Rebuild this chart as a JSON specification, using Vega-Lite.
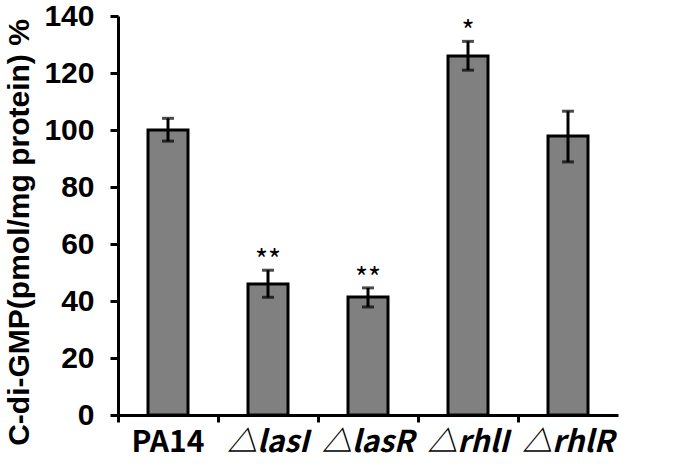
{
  "$schema": "https://vega.github.io/schema/vega-lite/v6.json",
  "width": 500,
  "height": 399,
  "autosize": "none",
  "padding": {"left": 118, "top": 16, "right": 67, "bottom": 55},
  "background": "white",
  "config": {"view": {"stroke": null}},
  "data": {
    "values": [
      {"strain": "PA14", "mean": 100, "lo": 96.1, "hi": 104.1, "sig": ""},
      {"strain": "△lasI", "mean": 46, "lo": 41.3, "hi": 50.8, "sig": "**"},
      {"strain": "△lasR", "mean": 41.4, "lo": 37.9, "hi": 44.6, "sig": "**"},
      {"strain": "△rhlI", "mean": 126, "lo": 121, "hi": 131.1, "sig": "*"},
      {"strain": "△rhlR", "mean": 97.9, "lo": 88.8, "hi": 106.6, "sig": ""}
    ]
  },
  "encoding": {
    "x": {
      "field": "strain",
      "type": "nominal",
      "sort": null,
      "scale": {"paddingInner": 0, "paddingOuter": 0},
      "axis": {
        "title": null,
        "labelAngle": 0,
        "bandPosition": 0,
        "domainColor": "black",
        "domainWidth": 3,
        "tickColor": "black",
        "tickWidth": 3,
        "tickSize": 7,
        "labelFont": "Noto Sans CJK SC",
        "labelFontWeight": "bold",
        "labelFontSize": 30,
        "labelColor": "black",
        "labelPadding": 5,
        "labelFontStyle": {"condition": {"test": "datum.value != 'PA14'", "value": "italic"}, "value": "normal"}
      }
    }
  },
  "layer": [
    {
      "mark": {"type": "bar", "width": {"band": 0.4}, "fill": "#808080", "stroke": "black", "strokeWidth": 3},
      "encoding": {
        "y": {
          "field": "mean",
          "type": "quantitative",
          "scale": {"domain": [0, 140]},
          "axis": {
            "title": "C-di-GMP(pmol/mg protein) %",
            "values": [0, 20, 40, 60, 80, 100, 120, 140],
            "grid": false,
            "domainColor": "black",
            "domainWidth": 3,
            "tickColor": "black",
            "tickWidth": 3,
            "tickSize": 8,
            "labelFont": "Liberation Sans",
            "labelFontWeight": "bold",
            "labelFontSize": 30,
            "labelColor": "black",
            "labelPadding": 16,
            "titleFont": "Liberation Sans",
            "titleFontWeight": "bold",
            "titleFontSize": 30,
            "titleColor": "black",
            "titleX": -84,
            "titleY": 216
          }
        }
      }
    },
    {
      "mark": {"type": "rule", "color": "black", "strokeWidth": 3},
      "encoding": {
        "y": {"field": "lo", "type": "quantitative"},
        "y2": {"field": "hi"}
      }
    },
    {
      "mark": {"type": "tick", "color": "black", "thickness": 3, "size": 12},
      "encoding": {"y": {"field": "lo", "type": "quantitative"}}
    },
    {
      "mark": {"type": "tick", "color": "black", "thickness": 3, "size": 12},
      "encoding": {"y": {"field": "hi", "type": "quantitative"}}
    },
    {
      "mark": {"type": "text", "font": "Noto Sans CJK SC", "fontSize": 28, "color": "black", "baseline": "middle", "dy": -8},
      "encoding": {
        "y": {"field": "hi", "type": "quantitative"},
        "text": {"field": "sig"}
      }
    }
  ]
}
